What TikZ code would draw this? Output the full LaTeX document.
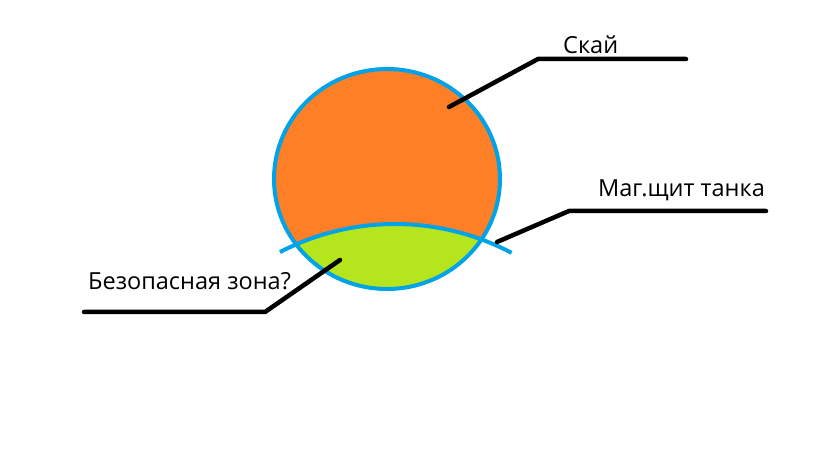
\documentclass[tikz,border=0pt]{standalone}
\usepackage{fontspec}
\setmainfont{Open Sans}
\definecolor{porange}{HTML}{FF7F27}
\definecolor{pblue}{HTML}{00A2E8}
\definecolor{plime}{HTML}{B5E61D}
\tikzset{
  leader/.style={line width=4.5pt, black, line cap=round, line join=round},
  label/.style={anchor=base west, inner sep=0pt, font=\fontsize{23.5}{28}\selectfont},
  border/.style={line width=4pt, pblue}
}
\begin{document}
\begin{tikzpicture}[x=1pt,y=1pt]
\useasboundingbox (0,0) rectangle (819,460);
% body
\fill[porange] (387,281) ellipse [x radius=113, y radius=110];
\begin{scope}
  \clip (387,281) ellipse [x radius=113, y radius=110];
  \fill[plime] (395,-14) circle [radius=250];
\end{scope}
\draw[border] (387,281) ellipse [x radius=113, y radius=110];
\draw[border] (395,-14) ++(117.4:250) arc [start angle=117.4, end angle=62.2, radius=250];
% labels
\node[label] (sky) at (563,406) {Скай};
\node[label] (mag) at (598,263) {Маг.щит танка};
\node[label] (bez) at (88,170) {Безопасная зона?};
% leaders
\coordinate (s1) at (449,353);
\coordinate (s2) at (538,401);
\coordinate (s3) at (686,401);
\coordinate (m1) at (497,218);
\coordinate (m2) at (569,249);
\coordinate (m3) at (766,249);
\coordinate (b1) at (340,200);
\coordinate (b2) at (265,148);
\coordinate (b3) at (84,148);
\draw[leader] (s1) -- (s2) -- (s3);
\draw[leader] (m1) -- (m2) -- (m3);
\draw[leader] (b1) -- (b2) -- (b3);
\end{tikzpicture}
\end{document}
